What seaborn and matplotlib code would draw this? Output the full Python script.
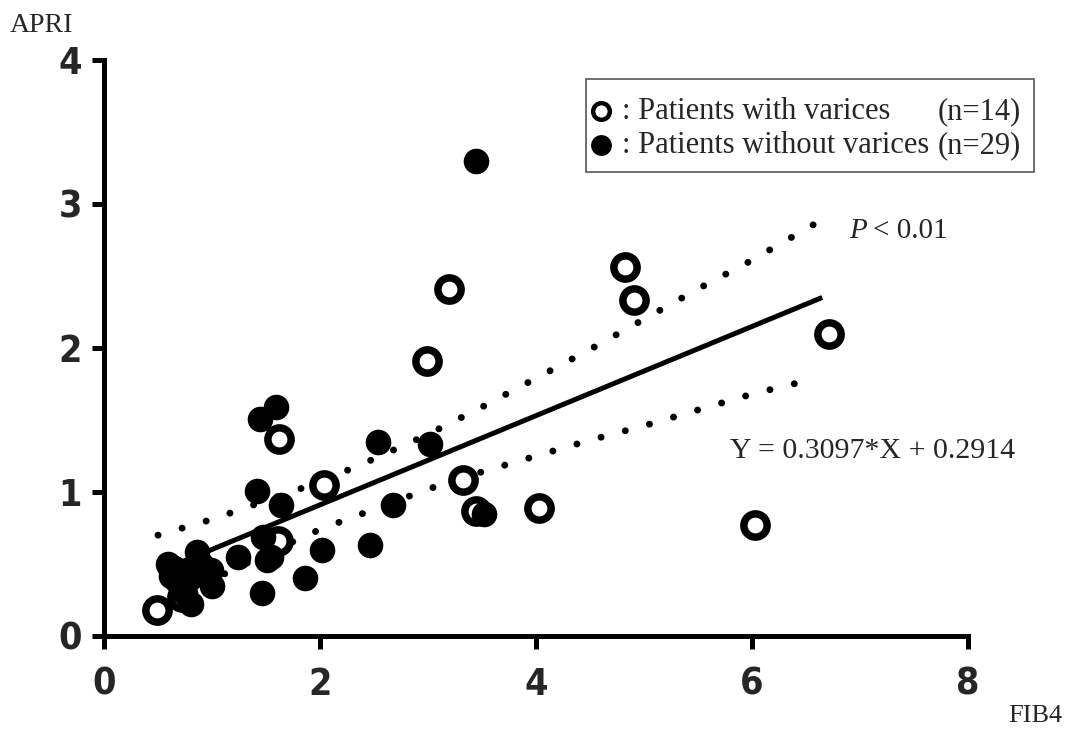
import numpy as np
import pandas as pd
import matplotlib
matplotlib.use("Agg")
import matplotlib.pyplot as plt
import seaborn as sns
from matplotlib.patches import Rectangle
from matplotlib.lines import Line2D

# ---- data ----
# Patients with varices (open circles)
with_fib4 = [0.49, 0.72, 1.61, 1.62, 2.04, 2.99, 3.19, 3.32, 3.44, 4.03, 4.82, 4.91, 6.03, 6.71]
with_apri = [0.18, 0.27, 0.66, 1.37, 1.05, 1.91, 2.41, 1.08, 0.87, 0.89, 2.56, 2.33, 0.77, 2.10]

# Patients without varices (filled circles)
without_fib4 = [3.44, 1.59, 1.44, 2.54, 3.02, 1.42, 1.64, 2.68, 3.52, 1.47, 1.51, 1.24, 2.02,
                2.46, 1.86, 1.46, 0.59, 0.62, 0.70, 0.86, 0.80, 0.99, 1.00, 0.81, 0.75,
                0.68, 0.90, 1.55, 0.65]
without_apri = [3.30, 1.59, 1.51, 1.35, 1.33, 1.01, 0.91, 0.91, 0.85, 0.69, 0.53, 0.55, 0.60,
                0.63, 0.40, 0.30, 0.50, 0.42, 0.45, 0.58, 0.40, 0.46, 0.35, 0.22, 0.30,
                0.38, 0.50, 0.55, 0.47]

# Regression line Y = 0.3097*X + 0.2914 drawn over this FIB4 range
slope = 0.3097
intercept = 0.2914
fit_range = [0.50, 6.65]

# 95% confidence band
band_x = [0.5, 1.0, 1.5, 2.0, 2.5, 3.0, 3.5, 4.0, 4.5, 5.0, 5.5, 6.0, 6.6]
band_upper = [0.70, 0.81, 0.94, 1.07, 1.23, 1.40, 1.59, 1.79, 1.99, 2.20, 2.41, 2.61, 2.87]
band_lower = [0.19, 0.39, 0.57, 0.74, 0.88, 1.02, 1.14, 1.25, 1.36, 1.46, 1.57, 1.68, 1.79]

x_ticks = [0, 2, 4, 6, 8]
y_ticks = [0, 1, 2, 3, 4]

legend_labels = [": Patients with varices", ": Patients without varices"]
legend_counts = ["(n=14)", "(n=29)"]

# ---- drawing ----
sns.set_style("ticks")
plt.rcParams['font.family'] = ['DejaVu Sans']

W, H = 1072, 731
fig = plt.figure(figsize=(W / 100, H / 100), dpi=100)
ax = fig.add_axes([104 / W, 95 / H, 864 / W, 576 / H])

df_with = pd.DataFrame({"FIB4": with_fib4, "APRI": with_apri})
df_without = pd.DataFrame({"FIB4": without_fib4, "APRI": without_apri})

# confidence band (dotted)
for yb in (band_upper, band_lower):
    ax.plot(band_x, yb, color="black", linewidth=5.0, linestyle=(0, (0.01, 3.6)),
            dash_capstyle="round", zorder=2)

# regression line
fx = np.array(fit_range)
ax.plot(fx, slope * fx + intercept, color="black", linewidth=3.6,
        solid_capstyle="butt", zorder=3)

# open circles
sns.scatterplot(data=df_with, x="FIB4", y="APRI", ax=ax, s=280, marker="o",
                facecolor="white", edgecolor="black", linewidth=5.4,
                zorder=4, clip_on=False, legend=False)
ax.collections[-1].set_facecolor("white")
# filled circles
sns.scatterplot(data=df_without, x="FIB4", y="APRI", ax=ax, s=340, marker="o",
                color="black", edgecolor="black", linewidth=0,
                zorder=5, clip_on=False, legend=False)

ax.set_xlim(0, 8)
ax.set_ylim(0, 4)
ax.set_xticks(x_ticks)
ax.set_yticks(y_ticks)
ax.set_xlabel("")
ax.set_ylabel("")
for side in ("top", "right"):
    ax.spines[side].set_visible(False)
for side in ("left", "bottom"):
    ax.spines[side].set_linewidth(3.6)
    ax.spines[side].set_color("black")
    ax.spines[side].set_capstyle("projecting")

ax.tick_params(axis="both", direction="out", length=9, width=3.6, color="black")
ax.tick_params(axis="x", pad=13)
ax.tick_params(axis="y", pad=7)
tick_font = dict(family=["DejaVu Sans"], stretch="condensed", weight="bold", size=27)
ax.set_xticklabels([str(t) for t in x_ticks], **tick_font)
ax.set_yticklabels([str(t) for t in y_ticks], **tick_font)

serif = ["Liberation Serif", "DejaVu Serif"]
fig.text(10 / W, 1 - 32 / H, "APRI", family=serif, fontsize=20, ha="left", va="baseline")
fig.text(1062 / W, 1 - 722 / H, "FIB4", family=serif, fontsize=19, ha="right", va="baseline")

fig.text(849 / W, 1 - 238 / H, "P", family=serif, style="italic", fontsize=21,
         ha="left", va="baseline")
fig.text(948 / W, 1 - 238 / H, "< 0.01", family=serif, fontsize=21,
         ha="right", va="baseline")
fig.text(730 / W, 1 - 458 / H, "Y = 0.3097*X + 0.2914", family=serif, fontsize=21.5,
         ha="left", va="baseline")

# legend box
fig.patches.append(Rectangle((586 / W, 1 - 172 / H), (1034 - 586) / W, (172 - 79) / H,
                             transform=fig.transFigure, facecolor="white",
                             edgecolor="#555555", linewidth=1.2, zorder=10))
leg_y = [111, 145]
fig.add_artist(Line2D([601 / W], [1 - leg_y[0] / H], marker="o", markersize=12,
                      markerfacecolor="white", markeredgecolor="black",
                      markeredgewidth=3.2, linestyle="none", zorder=11))
fig.add_artist(Line2D([601 / W], [1 - leg_y[1] / H], marker="o", markersize=15,
                      markerfacecolor="black", markeredgecolor="black",
                      markeredgewidth=0, linestyle="none", zorder=11))
for yy, lab, cnt in zip(leg_y, legend_labels, legend_counts):
    fig.text(622 / W, 1 - (yy + 8) / H, lab, family=serif, fontsize=22,
             ha="left", va="baseline", zorder=12)
    fig.text(1021 / W, 1 - (yy + 8) / H, cnt, family=serif, fontsize=22,
             ha="right", va="baseline", zorder=12)

fig.savefig("out.png", dpi=100)
